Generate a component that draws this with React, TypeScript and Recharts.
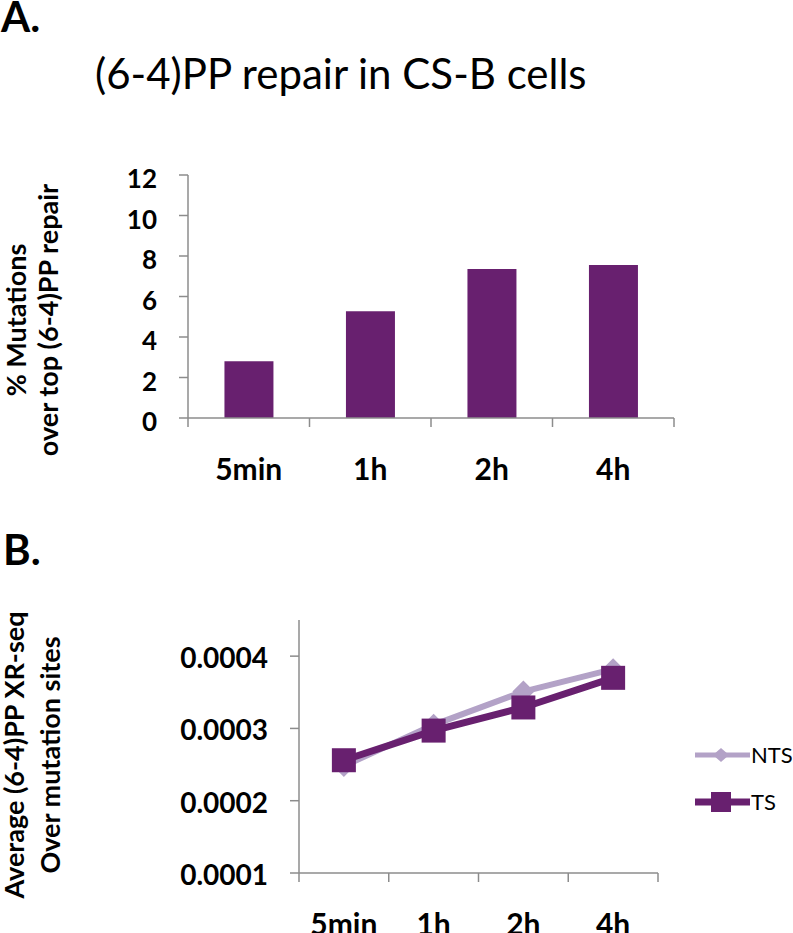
import React from "react";
import { BarChart, Bar, LineChart, Line, XAxis, YAxis, Legend } from "recharts";

const TIMES = ["5min", "1h", "2h", "4h"];
const MUTATION_PCT = [2.8, 5.27, 7.36, 7.56];
const BAR_TICKS = [0, 2, 4, 6, 8, 10, 12];

const NTS_VALUES = [0.000248, 0.000305, 0.000351, 0.000382];
const TS_VALUES = [0.000256, 0.000297, 0.000329, 0.00037];
const LINE_TICKS = [0.0001, 0.0002, 0.0003, 0.0004];

const PURPLE = "#68206f";
const LAVENDER = "#b3a2c7";
const AXIS = "#8c8c8c";
const FONT = "Lato, 'Open Sans', sans-serif";

// layout of the two panels (page pixels)
const TOP_MARGIN = { top: 175, right: 119, bottom: 42, left: 0 };
const TOP_YAXIS_W = 188;
const TOP_BAND = (793 - TOP_MARGIN.right - TOP_YAXIS_W) / TIMES.length;

const LINE_TOP = 560;
const LINE_MARGIN = { top: 60, right: 135, bottom: 0, left: 0 };
const LINE_YAXIS_W = 299;
const LINE_BAND = (793 - LINE_MARGIN.right - LINE_YAXIS_W) / TIMES.length;

const barData = TIMES.map((t, i) => ({ time: t, pct: MUTATION_PCT[i] }));
const lineData = TIMES.map((t, i) => ({ time: t, NTS: NTS_VALUES[i], TS: TS_VALUES[i] }));

// category tick: label in the middle, tick marks on the category borders (Excel style)
function makeXTick(band: number) {
  return (props: any) => {
    const { x, y, payload, index } = props;
    const left = x - band / 2;
    return (
      <g>
        <line x1={left} y1={y} x2={left} y2={y + 9} stroke={AXIS} strokeWidth={1.5} />
        {index === TIMES.length - 1 && (
          <line x1={x + band / 2} y1={y} x2={x + band / 2} y2={y + 9} stroke={AXIS} strokeWidth={1.5} />
        )}
        <text x={x} y={y + 62} textAnchor="middle" fontFamily={FONT} fontWeight={700} fontSize={30} fill="#000">
          {payload.value}
        </text>
      </g>
    );
  };
}

function makeYTick(format: (v: number) => string, fontSize: number, dy: number) {
  return (props: any) => {
    const { x, y, payload } = props;
    return (
      <text x={x} y={y + dy} textAnchor="end" fontFamily={FONT} fontWeight={700} fontSize={fontSize} fill="#000">
        {format(payload.value)}
      </text>
    );
  };
}

const SquareDot = (props: any) => {
  const { cx, cy, index } = props;
  if (cx == null || cy == null) return <g key={index} />;
  return <rect key={index} x={cx - 12} y={cy - 12} width={24} height={24} fill={PURPLE} />;
};

const DiamondDot = (props: any) => {
  const { cx, cy, index } = props;
  if (cx == null || cy == null) return <g key={index} />;
  const r = 11;
  return (
    <polygon
      key={index}
      points={`${cx},${cy - r} ${cx + r},${cy} ${cx},${cy + r} ${cx - r},${cy}`}
      fill={LAVENDER}
    />
  );
};

const renderLegend = (props: any) => {
  const items = props.payload || [];
  return (
    <svg width={103} height={90}>
      {items.map((entry: any, i: number) => {
        const y = 17 + i * 47;
        const isTs = entry.value === "TS";
        return (
          <g key={entry.value}>
            <line x1={5} y1={y} x2={60} y2={y} stroke={entry.color} strokeWidth={isTs ? 7 : 5} />
            {isTs ? (
              <rect x={21} y={y - 10} width={20} height={20} fill={entry.color} />
            ) : (
              <polygon points={`31,${y - 7} 39,${y} 31,${y + 7} 23,${y}`} fill={entry.color} />
            )}
            <text x={61} y={y + 8} fontFamily={FONT} fontSize={22} fill="#000">
              {entry.value}
            </text>
          </g>
        );
      })}
    </svg>
  );
};

export default function App() {
  return (
    <div
      style={{
        position: "absolute",
        left: 0,
        top: 0,
        width: 793,
        height: 933,
        overflow: "hidden",
        background: "#fff",
        fontFamily: FONT,
      }}
    >
      <svg width={793} height={933} style={{ position: "absolute", left: 0, top: 0 }}>
        <text x={1} y={32} fontFamily={FONT} fontWeight={700} fontSize={42} fill="#000">A.</text>
        <text x={95} y={89} fontFamily={FONT} fontSize={42} fill="#000">(6-4)PP repair in CS-B cells</text>
        <g transform="translate(26,320) rotate(-90)">
          <text x={0} y={0} textAnchor="middle" fontFamily={FONT} fontWeight={700} fontSize={27} fill="#000">
            % Mutations
          </text>
        </g>
        <g transform="translate(58,320) rotate(-90)">
          <text x={0} y={0} textAnchor="middle" fontFamily={FONT} fontWeight={700} fontSize={27} fill="#000">
            over top (6-4)PP repair
          </text>
        </g>
        <text x={3} y={565} fontFamily={FONT} fontWeight={700} fontSize={42} fill="#000">B.</text>
        <g transform="translate(24,755) rotate(-90)">
          <text x={0} y={0} textAnchor="middle" fontFamily={FONT} fontWeight={700} fontSize={27} fill="#000">
            Average (6-4)PP XR-seq
          </text>
        </g>
        <g transform="translate(60,755) rotate(-90)">
          <text x={0} y={0} textAnchor="middle" fontFamily={FONT} fontWeight={700} fontSize={27} fill="#000">
            Over mutation sites
          </text>
        </g>
      </svg>

      <div style={{ position: "absolute", left: 0, top: 0 }}>
        <BarChart width={793} height={520} data={barData} margin={TOP_MARGIN} barCategoryGap="30%">
          <XAxis
            dataKey="time"
            height={60}
            axisLine={{ stroke: AXIS, strokeWidth: 1.5 }}
            tickLine={false}
            tickSize={0}
            tickMargin={0}
            tick={makeXTick(TOP_BAND)}
            interval={0}
          />
          <YAxis
            width={TOP_YAXIS_W}
            domain={[0, 12]}
            ticks={BAR_TICKS}
            axisLine={{ stroke: AXIS, strokeWidth: 1.5 }}
            tickLine={{ stroke: AXIS, strokeWidth: 1.5 }}
            tickSize={9}
            tickMargin={22}
            tick={makeYTick((v) => String(v), 26, 13)}
            interval={0}
          />
          <Bar dataKey="pct" fill={PURPLE} isAnimationActive={false} />
        </BarChart>
      </div>

      <div style={{ position: "absolute", left: 0, top: LINE_TOP }}>
        <LineChart width={793} height={373} data={lineData} margin={LINE_MARGIN}>
          <XAxis
            dataKey="time"
            scale="band"
            height={60}
            axisLine={{ stroke: AXIS, strokeWidth: 1.5 }}
            tickLine={false}
            tickSize={0}
            tickMargin={0}
            tick={makeXTick(LINE_BAND)}
            interval={0}
          />
          <YAxis
            width={LINE_YAXIS_W}
            domain={[0.0001, 0.00045]}
            ticks={LINE_TICKS}
            allowDataOverflow
            axisLine={{ stroke: AXIS, strokeWidth: 1.5 }}
            tickLine={{ stroke: AXIS, strokeWidth: 1.5 }}
            tickSize={9}
            tickMargin={22}
            tick={makeYTick((v) => v.toFixed(4), 28, 12)}
            interval={0}
          />
          <Legend
            layout="horizontal"
            verticalAlign="middle"
            align="center"
            content={renderLegend}
            wrapperStyle={{ left: 690, top: 178, width: 103, height: 90 }}
          />
          <Line
            dataKey="NTS"
            stroke={LAVENDER}
            strokeWidth={6}
            dot={DiamondDot}
            activeDot={false}
            isAnimationActive={false}
          />
          <Line
            dataKey="TS"
            stroke={PURPLE}
            strokeWidth={7}
            dot={SquareDot}
            activeDot={false}
            isAnimationActive={false}
          />
        </LineChart>
      </div>
    </div>
  );
}
